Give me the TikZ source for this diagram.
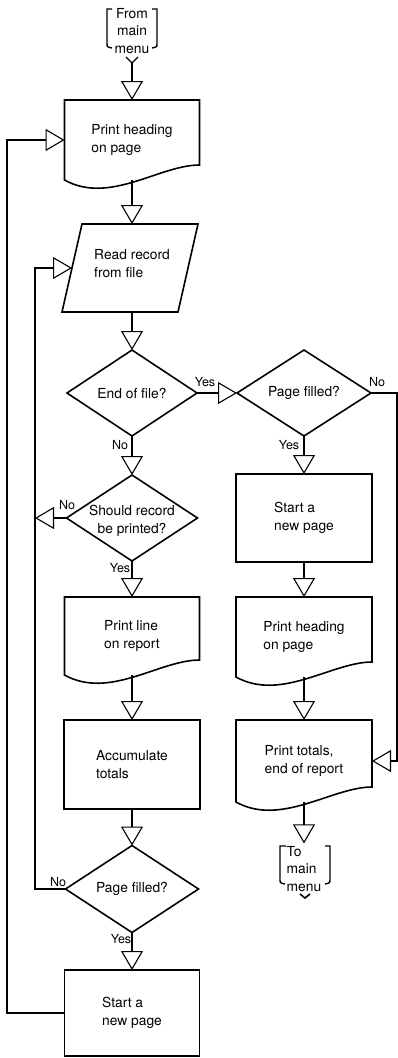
\documentclass[tikz,border=0pt]{standalone}
\usepackage{fontspec}
\setmainfont{TeX Gyre Heros}
\usetikzlibrary{arrows.meta,calc}
\newcommand\drawdoc[1]{\draw[shp] (#1.south west) .. controls +(45,25) and +(-40,0) .. ($(#1.south east)+(0,-15)$) -- (#1.north east) -- (#1.north west) -- cycle;}
\newcommand\drawdiam[1]{\draw[shp] (#1.north) -- (#1.east) -- (#1.south) -- (#1.west) -- cycle;}
\begin{document}
\begin{tikzpicture}[x=1pt,y=-1pt,
  shp/.style={line width=1.6pt, line join=miter},
  con/.style={line width=1.1pt},
  arr/.style={con, -{Triangle[open,length=19pt,width=22pt]}},
  txt/.style={font=\fontsize{13.8}{17.5}\selectfont, inner sep=0pt, outer sep=0pt},
  lab/.style={font=\fontsize{12.5}{15}\selectfont, inner sep=0pt},
  blk/.style={txt, align=left},
  rbox/.style={blk, draw, shp},
  brk/.style={line width=1.4pt}
]
\useasboundingbox (0,0) rectangle (398,1058);

% ---- loop rails
\coordinate (olx) at (7,0);
\coordinate (ilx) at (35,0);
\coordinate (rx) at (397,0);

% ---- from main menu
\node[txt, align=center] (from) at (132,31) {From\\main\\menu};
\draw[brk] (112,9) -- (107,9) -- (107,43) .. controls (107,47) .. (112,48);
\draw[brk] (152,9) -- (157,9) -- (157,43) .. controls (157,47) .. (152,48);
\coordinate (fromtip) at (132,63);
\draw[con] (126,57) -- (fromtip) -- (138,57);

% ---- left column
\node[blk, minimum width=135pt, minimum height=80pt] (h1) at (132,140) {Print heading\\on page};
\drawdoc{h1}

\node[blk, minimum width=116pt, minimum height=88pt,
  label={[blk, yshift=4.5pt, xshift=2pt]center:{Read record\\from file}}] (r1) at (130,268) {};
\draw[shp] ($(r1.north west)+(10,0)$) -- ($(r1.north east)+(10,0)$) -- ($(r1.south east)+(-10,0)$) -- ($(r1.south west)+(-10,0)$) -- cycle;

\node[txt, align=center, minimum width=130pt, minimum height=86pt] (d1) at (132,393) {End of file?};
\drawdiam{d1}

\node[txt, align=center, minimum width=131pt, minimum height=86pt,
  label={[txt, align=center, yshift=-3pt]center:{Should record\\be printed?}}] (d3) at (132,518) {};
\drawdiam{d3}

\node[blk, minimum width=135pt, minimum height=78pt] (p1) at (132,636) {Print line\\on report};
\drawdoc{p1}

\node[rbox, minimum width=136pt, minimum height=89pt] (a1) at (132,764.5) {Accumulate\\totals};

\node[txt, align=center, minimum width=133pt, minimum height=87pt] (d4) at (132,889) {Page filled?};
\drawdiam{d4}

\node[rbox, minimum width=135pt, minimum height=86pt] (s2) at (132,1013) {Start a\\new page};

% ---- right column
\node[txt, align=center, minimum width=134pt, minimum height=86pt] (d2) at (304,393) {Page filled?};
\drawdiam{d2}

\node[rbox, minimum width=136pt, minimum height=88pt] (s1) at (304,518) {Start a\\new page};

\node[blk, minimum width=136pt, minimum height=80pt] (h2) at (304,637) {Print heading\\on page};
\drawdoc{h2}

\node[blk, minimum width=136pt, minimum height=82pt] (t3) at (304,761) {Print totals,\\end of report};
\drawdoc{t3}

% ---- to main menu
\node[blk] (tomenu) at (304,869) {To\\main\\menu};
\draw[brk] (286,846) -- (280,846) -- (280,879) .. controls (280,883) .. (285,884);
\draw[brk] (325,846) -- (330,846) -- (330,879) .. controls (330,883) .. (325,884);
\draw[shp] (300,894) -- (305,898) -- (310,894);

% ---- connectors
\draw[arr] (fromtip) -- (h1.north);
\draw[arr] (h1.south) -- (h1.south |- r1.north);
\draw[arr] (d1.north |- r1.south) -- (d1.north);
\draw[arr] (d1.south) -- (d3.north);
\draw[arr] (d3.south) -- (p1.north);
\draw[arr] (p1.south) -- (a1.north);
\draw[arr] (a1.south) -- (d4.north);
\draw[arr] (d4.south) -- (s2.north);
\draw[arr] (d1.east) -- (d2.west);
\draw[arr] (d2.south) -- (s1.north);
\draw[arr] (s1.south) -- (h2.north);
\draw[arr] (h2.south) -- (t3.north);
\draw[arr] (t3.south) -- ([yshift=3pt]tomenu.north);
\draw[arr] (d2.east) -- (d2.east -| rx) |- (t3.east);
\draw[arr] (d3.west) -- (d3.west -| ilx);
\draw[arr] (d4.west) -- (d4.west -| ilx) |- (r1.west);
\draw[arr] (s2.west) -- (s2.west -| olx) |- (h1.west);

% ---- labels
\node[lab] (ly1) at (205,382) {Yes};
\node[lab] (ln1) at (377,382) {No};
\node[lab] (ln2) at (120,445) {No};
\node[lab] (ly2) at (289,445) {Yes};
\node[lab] (ln3) at (67,505) {No};
\node[lab] (ly3) at (120,568) {Yes};
\node[lab] (ln4) at (58,882) {No};
\node[lab] (ly4) at (121,939) {Yes};
\end{tikzpicture}
\end{document}
